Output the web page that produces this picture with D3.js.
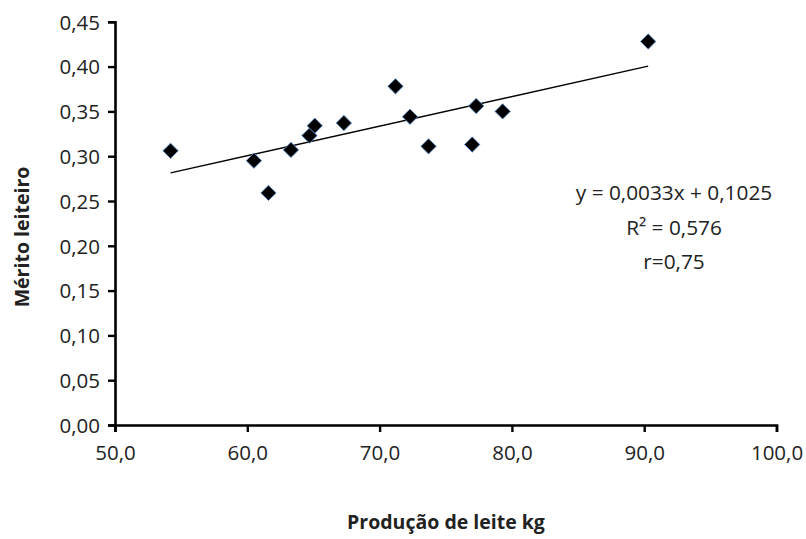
<!DOCTYPE html>
<html>
<head>
<meta charset="utf-8">
<script src="https://cdn.jsdelivr.net/npm/d3@7"></script>
<style>
    body { margin: 0; background: #fff; }
    text { font-family: "Open Sans", "Noto Sans", sans-serif; fill: #222; }
</style>
</head>
<body>
<svg id="chart" width="806" height="539"></svg>
<script>
// leite kg vs mérito leiteiro
const producao = [54.2, 60.5, 61.6, 63.3, 64.7, 65.1, 67.3, 71.2, 72.3, 73.7, 77.0, 77.3, 79.3, 90.3];
const merito   = [0.306, 0.295, 0.259, 0.307, 0.323, 0.334, 0.337, 0.378, 0.344, 0.311, 0.313, 0.356, 0.350, 0.428];

const x_ticks = [50, 60, 70, 80, 90, 100];
const y_ticks = [0, 0.05, 0.10, 0.15, 0.20, 0.25, 0.30, 0.35, 0.40, 0.45];

const slope = 0.0033;
const intercept = 0.1025;
const equation_lines = ["y = 0,0033x + 0,1025", "R² = 0,576", "r=0,75"];

const svg = d3.select("#chart");

const x = d3.scaleLinear().domain([50, 100]).range([115, 776.5]);
const y = d3.scaleLinear().domain([0, 0.45]).range([425, 21.8]);

const comma = f => v => d3.format(f)(v).replace(".", ",");

// axes
let x_axis = svg.append("g")
    .attr("transform", `translate(0 ${y(0)})`)
    .call(d3.axisBottom(x).tickValues(x_ticks).tickFormat(comma(".1f")).tickSizeOuter(0).tickSize(7).tickPadding(13));

let y_axis = svg.append("g")
    .attr("transform", `translate(${x(50)} 0)`)
    .call(d3.axisLeft(y).tickValues(y_ticks).tickFormat(comma(".2f")).tickSizeOuter(0).tickSize(7).tickPadding(8));

[x_axis, y_axis].forEach(a => {
    a.select(".domain").attr("stroke", "#000").attr("stroke-width", 2.6);
    a.selectAll(".tick line").attr("stroke", "#000").attr("stroke-width", 2.4);
    a.selectAll(".tick text")
        .attr("font-size", 20.5)
        .attr("font-family", "'Open Sans', sans-serif")
        .attr("fill", "#2a2a2a");
});
y_axis.selectAll(".tick text").attr("dy", "0.36em");

// trend line over the data range
let x_extent = d3.extent(producao);
let trend = x_extent.map(v => [v, slope * v + intercept]);

svg.append("path")
    .attr("d", d3.line().x(d => x(d[0])).y(d => y(d[1]))(trend))
    .attr("stroke", "#000")
    .attr("stroke-width", 1.4)
    .attr("fill", "none");

// points
let diamond = d3.symbol(d3.symbolSquare, 118);

svg.append("g")
    .selectAll("path")
    .data(producao.map((v, i) => [v, merito[i]]))
    .join("path")
    .attr("d", diamond)
    .attr("transform", d => `translate(${x(d[0])} ${y(d[1])}) rotate(45)`)
    .attr("fill", "#000")
    .attr("stroke", "#5b8fd0")
    .attr("stroke-width", 0.8);

// equation
svg.append("text")
    .attr("text-anchor", "middle")
    .attr("font-size", 20.8)
    .selectAll("tspan")
    .data(equation_lines)
    .join("tspan")
    .attr("x", 674)
    .attr("y", (d, i) => 200 + i * 34.5)
    .text(d => d);

// axis titles
svg.append("text")
    .attr("x", 446)
    .attr("y", 529)
    .attr("text-anchor", "middle")
    .attr("font-size", 19.5)
    .attr("font-weight", "bold")
    .text("Produção de leite kg");

svg.append("text")
    .attr("transform", "translate(29 237) rotate(-90)")
    .attr("text-anchor", "middle")
    .attr("font-size", 19.5)
    .attr("font-weight", "bold")
    .text("Mérito leiteiro");
</script>
</body>
</html>
